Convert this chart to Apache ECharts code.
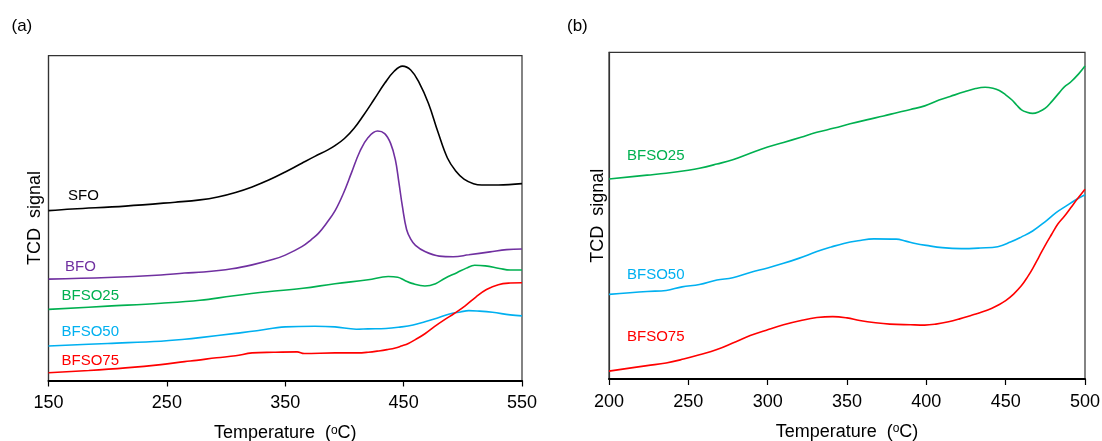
<!DOCTYPE html>
<html>
<head>
<meta charset="utf-8">
<script src="https://cdn.jsdelivr.net/npm/echarts@6/dist/echarts.min.js"></script>
<style>
  html, body { margin: 0; padding: 0; background: #fff; }
  #chart { width: 1102px; height: 441px; }
</style>
</head>
<body>
<div id="chart"></div>
<script>
// TPR profiles: temperature (ºC) vs TCD signal (a.u., 0-100 scale per panel)

// ---- panel (a) ----
const aTicks = [150, 250, 350, 450, 550];
const aSFO = [[150,52.3],[170,52.8],[215,53.7],[257,54.9],[278,55.6],[293,56.5],[308,57.9],[322,59.6],[336,61.7],[350,64.2],[364,66.9],[375,69.0],[386,71.0],[392,72.3],[400,74.5],[408,77.6],[416,81.6],[425,86.5],[434,91.5],[442,95.2],[449,96.8],[456,95.6],[463,91.8],[471,85.3],[479,76.5],[487,68.5],[494,64.5],[501,62.0],[509,60.6],[516,60.2],[530,60.2],[550,60.6]];
const aBFO = [[150,31.2],[200,31.7],[245,32.5],[265,33.1],[281,33.4],[305,34.4],[322,35.6],[340,37.3],[350,38.6],[364,41.2],[372,43.4],[378,45.3],[385,48.5],[392,52.2],[399,57.5],[406,64.0],[413,70.5],[420,74.8],[428,76.8],[434,76.0],[439,73.0],[443,68.0],[446,61.0],[449,53.5],[452.5,46.5],[456,43.5],[460,41.6],[468,39.7],[480,38.3],[492,38.1],[505,38.7],[523,39.6],[537,40.3],[550,40.5]];
const aBFSO25 = [[150,21.9],[200,22.9],[245,23.8],[278,24.7],[305,26.0],[335,27.3],[365,28.4],[392,29.8],[420,31.0],[437,32.0],[445,31.8],[451,30.8],[457,29.9],[468,29.1],[477,29.8],[485,31.5],[495,33.2],[503,34.6],[510,35.5],[519,35.3],[531,34.5],[540,34.0],[550,34.0]];
const aBFSO50 = [[150,10.6],[200,11.4],[245,12.1],[265,12.7],[278,13.2],[308,14.5],[326,15.3],[350,16.5],[375,16.7],[392,16.5],[410,15.8],[420,15.9],[435,16.0],[448,16.5],[458,17.1],[468,18.1],[478,19.2],[488,20.4],[498,21.1],[505,21.5],[512,21.4],[525,21.0],[540,20.2],[550,19.9]];
const aBFSO75 = [[150,2.4],[184,3.1],[215,3.9],[245,4.9],[265,5.8],[275,6.2],[292,7.0],[308,7.6],[322,8.5],[340,8.7],[360,8.8],[366,8.3],[392,8.5],[411,8.5],[420,8.7],[429,9.1],[436,9.5],[443,10.0],[448,10.6],[454,11.4],[460,12.6],[468,14.4],[476,16.6],[484,18.6],[493,20.7],[502,23.0],[511,25.7],[520,28.0],[530,29.5],[540,30.0],[550,30.1]];

// ---- panel (b) ----
const bTicks = [200, 250, 300, 350, 400, 450, 500];
const bBFSO25 = [[200,61.2],[224,62.4],[236,63.0],[250,63.9],[257,64.5],[268,65.8],[278,67.1],[289,69.1],[300,71.0],[310,72.4],[321,74.0],[331,75.5],[342,76.8],[352,78.1],[363,79.4],[373,80.5],[382,81.6],[390,82.5],[399,83.6],[408,85.4],[415,86.5],[424,87.9],[431,88.9],[437,89.3],[442,89.0],[446,88.3],[450,87.0],[454,85.4],[457,83.8],[460,82.4],[463,81.7],[467,81.3],[471,81.8],[475,82.9],[479,84.9],[483,87.2],[487,89.4],[491,90.9],[496,93.4],[500,95.8]];
const bBFSO50 = [[200,25.9],[224,26.8],[236,27.1],[246,28.2],[257,28.9],[268,30.3],[278,31.0],[289,32.6],[300,34.0],[310,35.4],[320,37.0],[331,39.0],[340,40.4],[348,41.5],[357,42.3],[367,42.9],[381,42.8],[387,42.2],[393,41.5],[400,40.9],[410,40.2],[422,39.9],[434,40.1],[445,40.5],[453,41.9],[460,43.5],[467,45.3],[475,48.2],[482,51.0],[488,52.9],[494,54.8],[500,56.4]];
const bBFSO75 = [[200,2.4],[224,4.1],[236,4.9],[247,6.1],[257,7.4],[268,9.0],[278,11.0],[289,13.3],[300,15.1],[310,16.6],[321,17.9],[331,18.8],[341,19.1],[350,18.7],[358,17.9],[368,17.2],[377,16.8],[390,16.6],[399,16.5],[406,16.8],[414,17.5],[421,18.4],[429,19.6],[435,20.5],[441,21.6],[446,22.8],[450,24.0],[455,26.0],[460,28.6],[464,31.4],[467,33.8],[471,37.4],[475,41.0],[479,44.3],[483,47.5],[487,49.8],[491,52.4],[495,55.0],[500,58.1]];

const FONT = 'Liberation Sans, Arial, sans-serif';
const C = {
  black: '#000000',
  purple: '#7030A0',
  green: '#00B050',
  cyan: '#00B0F0',
  red: '#FF0000'
};

function xAxisFor(gridIndex, ticks) {
  return {
    gridIndex: gridIndex,
    type: 'value',
    min: ticks[0],
    max: ticks[ticks.length - 1],
    interval: ticks[1] - ticks[0],
    axisLine: { show: true, onZero: false, lineStyle: { color: '#000', width: 2 } },
    axisTick: { show: true, inside: false, length: 6, lineStyle: { color: '#000', width: 1.2 } },
    axisLabel: { show: true, color: '#000', fontSize: 18, fontFamily: FONT, margin: 14 },
    splitLine: { show: false },
    name: 'Temperature  ({sup|o}C)',
    nameLocation: 'middle',
    nameGap: 44,
    nameTextStyle: {
      color: '#000', fontSize: 18, fontFamily: FONT,
      rich: { sup: { fontSize: 12, fontFamily: FONT, color: '#000', verticalAlign: 'top' } }
    }
  };
}

function yAxisFor(gridIndex, gap) {
  return {
    gridIndex: gridIndex,
    type: 'value',
    min: 0,
    max: 100,
    axisLine: { show: true, onZero: false, lineStyle: { color: '#333', width: 1.2 } },
    axisTick: { show: false },
    axisLabel: { show: false },
    splitLine: { show: false },
    name: 'TCD  signal',
    nameLocation: 'middle',
    nameGap: gap,
    nameTextStyle: { color: '#000', fontSize: 18, fontFamily: FONT }
  };
}

function lineSeries(name, data, color, axisIndex) {
  return {
    name: name,
    type: 'line',
    xAxisIndex: axisIndex,
    yAxisIndex: axisIndex,
    data: data,
    showSymbol: false,
    smooth: 0.4,
    lineStyle: { color: color, width: 1.6 },
    itemStyle: { color: color },
    silent: true,
    animation: false
  };
}

function tag(text, x, y, color) {
  return {
    type: 'text',
    x: x, y: y,
    silent: true,
    style: { text: text, fill: color, fontSize: 15, fontFamily: FONT, verticalAlign: 'middle', align: 'left' }
  };
}

const chart = echarts.init(document.getElementById('chart'), null, { renderer: 'canvas' });
chart.setOption({
  backgroundColor: '#fff',
  animation: false,
  grid: [
    { left: 48.5, right: 580, top: 55.7, bottom: 60.5, show: true, borderColor: '#333', borderWidth: 1.2, backgroundColor: 'transparent', outerBoundsMode: 'none' },
    { left: 609, right: 17, top: 52.3, bottom: 62, show: true, borderColor: '#333', borderWidth: 1.2, backgroundColor: 'transparent', outerBoundsMode: 'none' }
  ],
  xAxis: [xAxisFor(0, aTicks), xAxisFor(1, bTicks)],
  yAxis: [yAxisFor(0, 4), yAxisFor(1, 2)],
  series: [
    lineSeries('SFO', aSFO, C.black, 0),
    lineSeries('BFO', aBFO, C.purple, 0),
    lineSeries('BFSO25', aBFSO25, C.green, 0),
    lineSeries('BFSO50', aBFSO50, C.cyan, 0),
    lineSeries('BFSO75', aBFSO75, C.red, 0),
    lineSeries('BFSO25', bBFSO25, C.green, 1),
    lineSeries('BFSO50', bBFSO50, C.cyan, 1),
    lineSeries('BFSO75', bBFSO75, C.red, 1)
  ],
  graphic: [
    { type: 'text', x: 11.5, y: 26, silent: true, style: { text: '(a)', fill: '#000', fontSize: 17, fontFamily: FONT, verticalAlign: 'middle' } },
    { type: 'text', x: 567, y: 26, silent: true, style: { text: '(b)', fill: '#000', fontSize: 17, fontFamily: FONT, verticalAlign: 'middle' } },
    tag('SFO', 68, 195.5, C.black),
    tag('BFO', 65, 267, C.purple),
    tag('BFSO25', 61.5, 296, C.green),
    tag('BFSO50', 61.5, 332, C.cyan),
    tag('BFSO75', 61.5, 361.3, C.red),
    tag('BFSO25', 627, 156, C.green),
    tag('BFSO50', 627, 275.3, C.cyan),
    tag('BFSO75', 627, 336.7, C.red)
  ]
});
</script>
</body>
</html>
